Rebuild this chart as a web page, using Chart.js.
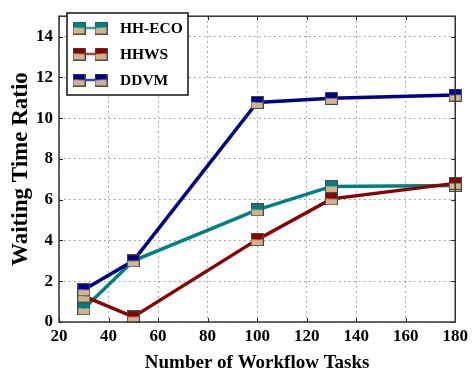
<!DOCTYPE html>
<html>
<head>
<meta charset="utf-8">
<script src="https://cdn.jsdelivr.net/npm/chart.js@4.4.1/dist/chart.umd.min.js"></script>
<style>
  html, body { margin: 0; padding: 0; background: #fff; }
  .chart-container { position: relative; width: 472px; height: 374px; }
</style>
</head>
<body>
<div class="chart-container"><canvas id="myChart" width="472" height="374"></canvas></div>
<script>
"use strict";

//////////////////////////////
// Data
const tasks = [30, 50, 100, 130, 180];
const hhEco = [0.65, 3.0, 5.5, 6.65, 6.7];
const hhws = [1.27, 0.25, 4.04, 6.04, 6.8];
const ddvm = [1.58, 3.0, 10.77, 10.97, 11.13];
const seriesNames = ["HH-ECO", "HHWS", "DDVM"];
const xTicks = [20, 40, 60, 80, 100, 120, 140, 160, 180];
const yTicks = [0, 2, 4, 6, 8, 10, 12, 14];

//////////////////////////////
// Styles
const serif = "'Liberation Serif', 'Times New Roman', serif";
const tan = "#D2B48C";
const colors = ["#008080", "#8B0000", "#00008B"];

// half filled square marker (top = series colour, bottom = tan)
const makeMarker = function (color) {
  const size = 13;
  const c = document.createElement("canvas");
  c.width = size;
  c.height = size;
  const g = c.getContext("2d");
  g.fillStyle = color;
  g.fillRect(0.5, 0.5, size - 1, (size - 1) / 2);
  g.fillStyle = tan;
  g.fillRect(0.5, 0.5 + (size - 1) / 2, size - 1, (size - 1) / 2);
  g.strokeStyle = "#4a4a4a";
  g.lineWidth = 1;
  g.strokeRect(0.5, 0.5, size - 1, size - 1);
  return c;
};
const markers = colors.map(makeMarker);

const toPoints = (values) => values.map((v, i) => ({ x: tasks[i], y: v }));

// frame with inward ticks on all sides
const frameTicks = {
  id: "frameTicks",
  afterDatasetsDraw(chart) {
    const { ctx, chartArea: a, scales } = chart;
    ctx.save();
    ctx.strokeStyle = "#222";
    ctx.lineWidth = 1;
    ctx.beginPath();
    yTicks.forEach((v) => {
      const y = Math.round(scales.y.getPixelForValue(v)) + 0.5;
      ctx.moveTo(a.left, y);
      ctx.lineTo(a.left + 4, y);
      ctx.moveTo(a.right, y);
      ctx.lineTo(a.right - 4, y);
    });
    xTicks.forEach((v) => {
      const x = Math.round(scales.x.getPixelForValue(v)) + 0.5;
      ctx.moveTo(x, a.bottom);
      ctx.lineTo(x, a.bottom - 4);
      ctx.moveTo(x, a.top);
      ctx.lineTo(x, a.top + 4);
    });
    ctx.stroke();
    ctx.strokeStyle = "#333";
    ctx.lineWidth = 1.5;
    ctx.strokeRect(a.left, a.top, a.right - a.left, a.bottom - a.top);
    ctx.restore();
  },
};

// legend box drawn inside the plot, upper left
const insideLegend = {
  id: "insideLegend",
  afterDraw(chart) {
    const ctx = chart.ctx;
    const box = { x: 67, y: 13, w: 121, h: 82 };
    ctx.save();
    ctx.fillStyle = "#fff";
    ctx.fillRect(box.x, box.y, box.w, box.h);
    ctx.strokeStyle = "#111";
    ctx.lineWidth = 1.5;
    ctx.strokeRect(box.x, box.y, box.w, box.h);
    chart.data.datasets.forEach((ds, i) => {
      const y = 28 + i * 26;
      ctx.strokeStyle = ds.borderColor;
      ctx.globalAlpha = 0.75;
      ctx.lineWidth = 2.5;
      ctx.beginPath();
      ctx.moveTo(79, y);
      ctx.lineTo(101, y);
      ctx.stroke();
      ctx.globalAlpha = 1;
      ctx.drawImage(markers[i], 79 - 6.5, y - 6.5);
      ctx.drawImage(markers[i], 101 - 6.5, y - 6.5);
      ctx.fillStyle = "#000";
      ctx.font = "bold 15.5px " + serif;
      ctx.textBaseline = "middle";
      ctx.fillText(ds.label, 120, y + 1);
    });
    ctx.restore();
  },
};

const makeDataset = function (label, values, i) {
  return {
    label: label,
    data: toPoints(values),
    borderColor: colors[i],
    backgroundColor: colors[i],
    borderWidth: 3.5,
    pointStyle: markers[i],
    pointRadius: 6,
    pointHoverRadius: 6,
    tension: 0,
    clip: false,
    order: 2 - i,
  };
};

const canvas = document.getElementById("myChart");
const chart = new Chart(canvas.getContext("2d"), {
  type: "line",
  data: {
    datasets: [
      makeDataset(seriesNames[0], hhEco, 0),
      makeDataset(seriesNames[1], hhws, 1),
      makeDataset(seriesNames[2], ddvm, 2),
    ],
  },
  options: {
    responsive: false,
    animation: false,
    layout: { padding: { top: 3, right: 16, bottom: 0, left: 0 } },
    plugins: {
      legend: { display: false },
      tooltip: { enabled: false },
    },
    scales: {
      x: {
        type: "linear",
        min: 20,
        max: 180,
        afterFit: (scale) => { scale.height = 52; },
        afterBuildTicks: (scale) => { scale.ticks = xTicks.map((v) => ({ value: v })); },
        grid: { color: "rgba(0,0,0,0.55)", lineWidth: 0.8, drawTicks: false },
        border: { display: false, dash: [1.5, 3.5] },
        ticks: {
          color: "#000",
          padding: 4,
          maxRotation: 0,
          font: { family: serif, size: 17, weight: "bold" },
        },
        title: {
          display: true,
          text: "Number of Workflow Tasks",
          color: "#000",
          padding: { top: 2, bottom: 0 },
          font: { family: serif, size: 19, weight: "bold" },
        },
      },
      y: {
        min: 0,
        max: 15,
        afterFit: (scale) => { scale.width = 59; },
        afterBuildTicks: (scale) => { scale.ticks = yTicks.map((v) => ({ value: v })); },
        grid: { color: "rgba(0,0,0,0.55)", lineWidth: 0.8, drawTicks: false },
        border: { display: false, dash: [1.5, 3.5] },
        ticks: {
          color: "#000",
          padding: 6,
          font: { family: serif, size: 17, weight: "bold" },
        },
        title: {
          display: true,
          text: "Waiting Time Ratio",
          color: "#000",
          padding: { top: 7, bottom: 0 },
          font: { family: serif, size: 23, weight: "bold" },
        },
      },
    },
  },
  plugins: [frameTicks, insideLegend],
});
</script>
</body>
</html>
